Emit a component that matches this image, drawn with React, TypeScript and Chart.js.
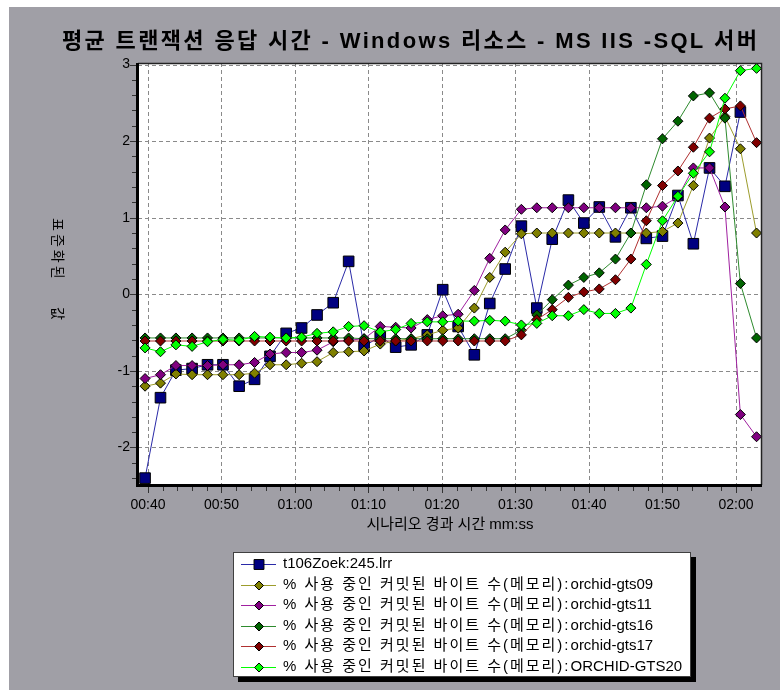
import React, { useEffect, useRef } from 'react';
import { Chart, registerables } from 'chart.js';

Chart.register(...registerables);

const TITLE = '평균 트랜잭션 응답 시간 - Windows 리소스 - MS IIS -SQL 서버';
const X_TITLE = '시나리오 경과 시간 mm:ss';
const Y_TITLE_A = '표준화된';
const Y_TITLE_B = '값';

const Y_TICKS = [-2, -1, 0, 1, 2, 3];
const X_TICKS = [40, 50, 60, 70, 80, 90, 100, 110, 120];

// elapsed scenario time in seconds
const TIMES = [39.6, 41.7, 43.8, 46.0, 48.1, 50.2, 52.4, 54.5, 56.6, 58.8, 60.9, 63.0, 65.2, 67.3, 69.4, 71.6, 73.7, 75.8, 78.0, 80.1,
  82.2, 84.4, 86.5, 88.6, 90.8, 92.9, 95.0, 97.2, 99.3, 101.4, 103.6, 105.7, 107.8, 110.0, 112.1, 114.2, 116.4, 118.5, 120.6, 122.8];

const T106 = [-2.40, -1.35, -0.99, -0.97, -0.92, -0.92, -1.20, -1.11, -0.81, -0.51, -0.44, -0.27, -0.11, 0.43, -0.68, -0.55, -0.69, -0.66, -0.53, 0.06,
  -0.42, -0.79, -0.12, 0.33, 0.89, -0.18, 0.72, 1.23, 0.93, 1.14, 0.75, 1.13, 0.73, 0.76, 1.29, 0.66, 1.65, 1.41, 2.38, null];
const GTS09 = [-1.20, -1.16, -1.04, -1.05, -1.05, -1.05, -1.05, -1.03, -0.92, -0.92, -0.90, -0.88, -0.76, -0.75, -0.74, -0.65, -0.61, -0.58, -0.53, -0.47,
  -0.44, -0.18, 0.22, 0.55, 0.79, 0.80, 0.80, 0.80, 0.80, 0.80, 0.80, 0.80, 0.80, 0.82, 0.93, 1.42, 2.04, 2.32, 1.90, 0.80];
const GTS11 = [-1.10, -1.05, -0.93, -0.93, -0.93, -0.92, -0.92, -0.89, -0.78, -0.76, -0.76, -0.73, -0.62, -0.60, -0.58, -0.42, -0.43, -0.44, -0.33, -0.28,
  -0.26, 0.05, 0.47, 0.84, 1.11, 1.13, 1.13, 1.13, 1.13, 1.13, 1.13, 1.13, 1.13, 1.15, 1.27, 1.65, 1.65, 1.14, -1.57, -1.86];
const GTS16 = [-0.57, -0.57, -0.57, -0.57, -0.57, -0.57, -0.57, -0.57, -0.57, -0.57, -0.57, -0.57, -0.57, -0.57, -0.58, -0.58, -0.58, -0.58, -0.58, -0.58,
  -0.58, -0.58, -0.58, -0.58, -0.47, -0.27, -0.07, 0.12, 0.22, 0.28, 0.46, 0.80, 1.43, 2.03, 2.26, 2.59, 2.63, 2.30, 0.14, -0.57];
const GTS17 = [-0.61, -0.61, -0.61, -0.61, -0.61, -0.61, -0.61, -0.61, -0.61, -0.61, -0.61, -0.61, -0.61, -0.61, -0.61, -0.61, -0.61, -0.61, -0.61, -0.61,
  -0.61, -0.61, -0.61, -0.61, -0.53, -0.33, -0.20, -0.04, 0.03, 0.07, 0.19, 0.46, 0.96, 1.42, 1.61, 1.92, 2.30, 2.42, 2.46, 1.98];
const GTS20 = [-0.70, -0.75, -0.66, -0.68, -0.62, -0.59, -0.60, -0.55, -0.56, -0.57, -0.56, -0.51, -0.49, -0.42, -0.41, -0.49, -0.46, -0.38, -0.36, -0.36,
  -0.35, -0.35, -0.34, -0.35, -0.40, -0.38, -0.28, -0.28, -0.20, -0.25, -0.25, -0.18, 0.39, 0.96, 1.28, 1.58, 1.86, 2.56, 2.92, 2.95];

const MEM_PREFIX = '% 사용 중인 커밋된 바이트 수(메모리):';
const LABELS = [
  't106Zoek:245.lrr',
  MEM_PREFIX + 'orchid-gts09',
  MEM_PREFIX + 'orchid-gts11',
  MEM_PREFIX + 'orchid-gts16',
  MEM_PREFIX + 'orchid-gts17',
  MEM_PREFIX + 'ORCHID-GTS20',
];

const FONT = '"Liberation Sans", "Noto Sans CJK KR", Arial, sans-serif';
const BG = '#a09fa6';

const fmt = (v: number) => {
  const m = Math.floor(v / 60);
  const s = Math.round(v - m * 60);
  return String(m).padStart(2, '0') + ':' + String(s).padStart(2, '0');
};

function makeSet(label: string, values: (number | null)[], line: string, fill: string, style: string, radius: number, order: number) {
  return {
    label,
    data: TIMES.map((t, i) => ({ x: t, y: values[i] })),
    borderColor: line,
    backgroundColor: fill,
    pointBackgroundColor: fill,
    pointBorderColor: '#000',
    pointBorderWidth: 1,
    pointStyle: style,
    pointRadius: radius,
    pointHoverRadius: radius,
    borderWidth: 1,
    tension: 0,
    order,
    clip: false,
  };
}

function drawMarker(ctx: CanvasRenderingContext2D, style: string, x: number, y: number, r: number, fill: string) {
  ctx.beginPath();
  if (style === 'rect') {
    const h = r * Math.SQRT1_2;
    ctx.rect(x - h, y - h, 2 * h, 2 * h);
  } else {
    ctx.moveTo(x, y - r);
    ctx.lineTo(x + r, y);
    ctx.lineTo(x, y + r);
    ctx.lineTo(x - r, y);
    ctx.closePath();
  }
  ctx.fillStyle = fill;
  ctx.fill();
  ctx.strokeStyle = '#000';
  ctx.lineWidth = 1;
  ctx.stroke();
}

const decorPlugin = {
  id: 'decor',
  beforeDraw(chart: any) {
    const { ctx, chartArea: a } = chart;
    ctx.save();
    ctx.fillStyle = '#fff';
    ctx.fillRect(a.left, a.top, a.right - a.left, a.bottom - a.top);
    // dashed grid
    ctx.strokeStyle = '#8a8a8a';
    ctx.lineWidth = 1;
    ctx.setLineDash([4, 3]);
    const xs = chart.scales.x, ys = chart.scales.y;
    X_TICKS.forEach((v) => {
      const px = Math.round(xs.getPixelForValue(v)) + 0.5;
      ctx.beginPath(); ctx.moveTo(px, a.top); ctx.lineTo(px, a.bottom); ctx.stroke();
    });
    Y_TICKS.forEach((v) => {
      const py = Math.round(ys.getPixelForValue(v)) + 0.5;
      ctx.beginPath(); ctx.moveTo(a.left, py); ctx.lineTo(a.right, py); ctx.stroke();
    });
    ctx.setLineDash([]);
    ctx.restore();
  },
  afterDraw(chart: any) {
    const { ctx, chartArea: a } = chart;
    const xs = chart.scales.x, ys = chart.scales.y;
    ctx.save();
    // minor/major tick marks
    ctx.strokeStyle = '#333';
    ctx.lineWidth = 1;
    for (let k = -12; k <= 15; k++) {
      const v = k / 5;
      const py = Math.round(ys.getPixelForValue(v)) + 0.5;
      const len = k % 5 === 0 ? 6 : 4;
      ctx.beginPath(); ctx.moveTo(a.left - 2 - len, py); ctx.lineTo(a.left - 2, py); ctx.stroke();
    }
    for (let k = 20; k <= 61; k++) {
      const v = k * 2;
      const px = Math.round(xs.getPixelForValue(v)) + 0.5;
      const len = v % 10 === 0 ? 6 : 4;
      ctx.beginPath(); ctx.moveTo(px, a.bottom + 2); ctx.lineTo(px, a.bottom + 2 + len); ctx.stroke();
    }
    // frame
    ctx.strokeStyle = '#222';
    ctx.lineWidth = 1.5;
    ctx.beginPath();
    ctx.moveTo(a.left, a.top + 0.5); ctx.lineTo(a.right - 0.5, a.top + 0.5); ctx.lineTo(a.right - 0.5, a.bottom);
    ctx.stroke();
    ctx.strokeStyle = '#000';
    ctx.lineWidth = 3;
    ctx.beginPath();
    ctx.moveTo(a.left - 0.5, a.top); ctx.lineTo(a.left - 0.5, a.bottom + 0.5); ctx.lineTo(a.right, a.bottom + 0.5);
    ctx.stroke();

    // title, spread to the reference's width
    ctx.fillStyle = '#000';
    ctx.textBaseline = 'middle';
    ctx.textAlign = 'left';
    ctx.font = 'bold 22px ' + FONT;
    (ctx as any).letterSpacing = '0px';
    const tw = ctx.measureText(TITLE).width;
    const targetW = 695;
    const sp = Math.max(0, (targetW - tw) / (TITLE.length - 1));
    (ctx as any).letterSpacing = sp.toFixed(2) + 'px';
    ctx.fillText(TITLE, 400.5 - targetW / 2, 35);
    (ctx as any).letterSpacing = '0px';

    // x title
    ctx.textAlign = 'center';
    ctx.font = '15px ' + FONT;
    ctx.fillText(X_TITLE, (a.left + a.right) / 2, 518);

    // y title (rotated clockwise)
    ctx.save();
    ctx.translate(48, 0);
    ctx.rotate(Math.PI / 2);
    ctx.textAlign = 'left';
    ctx.font = '14px ' + FONT;
    (ctx as any).letterSpacing = '3px';
    ctx.fillText(Y_TITLE_A, 211, 0);
    ctx.fillText(Y_TITLE_B, 300, 0);
    ctx.restore();

    // legend
    const bx = 224, by = 545, bw = 458, bh = 125;
    ctx.fillStyle = '#000';
    ctx.fillRect(bx + 5, by + 5, bw, bh);
    ctx.fillStyle = '#fff';
    ctx.fillRect(bx, by, bw, bh);
    ctx.strokeStyle = '#404040';
    ctx.lineWidth = 1;
    ctx.strokeRect(bx + 0.5, by + 0.5, bw - 1, bh - 1);
    chart.data.datasets.forEach((ds: any, i: number) => {
      const y = 557 + i * 20.5;
      ctx.strokeStyle = ds.borderColor;
      ctx.lineWidth = 1;
      ctx.beginPath(); ctx.moveTo(232, Math.round(y) + 0.5); ctx.lineTo(267, Math.round(y) + 0.5); ctx.stroke();
      drawMarker(ctx, ds.pointStyle, 250, Math.round(y) + 0.5, ds.pointStyle === 'rect' ? 7 : 4.5, ds.pointBackgroundColor);
      ctx.fillStyle = '#000';
      ctx.textAlign = 'left';
      ctx.textBaseline = 'middle';
      const label: string = ds.label;
      if (label.startsWith(MEM_PREFIX)) {
        ctx.font = '15px ' + FONT;
        (ctx as any).letterSpacing = '2px';
        ctx.fillText(MEM_PREFIX, 274, y);
        const w = ctx.measureText(MEM_PREFIX).width;
        (ctx as any).letterSpacing = '0px';
        ctx.fillText(label.slice(MEM_PREFIX.length), 274 + w, y);
      } else {
        (ctx as any).letterSpacing = '0px';
        ctx.font = '15px ' + FONT;
        ctx.fillText(label, 274, y);
      }
    });
    ctx.restore();
  },
};

export default function App() {
  const ref = useRef<HTMLCanvasElement | null>(null);
  useEffect(() => {
    if (!ref.current) return;
    const chart = new Chart(ref.current, {
      type: 'line',
      data: {
        datasets: [
          makeSet(LABELS[0], T106, '#2a2aa8', '#000080', 'rect', 7.5, 6),
          makeSet(LABELS[1], GTS09, '#9c9c2c', '#808000', 'rectRot', 5, 5),
          makeSet(LABELS[2], GTS11, '#a020a0', '#800080', 'rectRot', 5, 4),
          makeSet(LABELS[3], GTS16, '#2e8b2e', '#006400', 'rectRot', 5, 3),
          makeSet(LABELS[4], GTS17, '#b03030', '#800000', 'rectRot', 5, 2),
          makeSet(LABELS[5], GTS20, '#00ff00', '#00ff00', 'rectRot', 5, 1),
        ] as any,
      },
      options: {
        animation: false,
        responsive: false,
        maintainAspectRatio: false,
        devicePixelRatio: 1,
        layout: { padding: { top: 56, right: 18, left: 0, bottom: 0 } },
        plugins: { legend: { display: false }, title: { display: false }, tooltip: { enabled: false } },
        scales: {
          x: {
            type: 'linear',
            min: 38.64,
            max: 123.54,
            afterBuildTicks: (s: any) => { s.ticks = X_TICKS.map((v) => ({ value: v })); },
            afterFit: (s: any) => { s.height = 205; },
            ticks: { callback: (v: any) => fmt(Number(v)), color: '#000', font: { size: 14, family: FONT }, padding: 12, maxRotation: 0, autoSkip: false },
            grid: { display: false, drawTicks: false },
            border: { display: false },
          },
          y: {
            type: 'linear',
            min: -2.49,
            max: 3.02,
            afterBuildTicks: (s: any) => { s.ticks = Y_TICKS.map((v) => ({ value: v })); },
            afterFit: (s: any) => { s.width = 129; },
            ticks: { color: '#000', font: { size: 14, family: FONT }, padding: 8 },
            grid: { display: false, drawTicks: false },
            border: { display: false },
          },
        },
      } as any,
      plugins: [decorPlugin],
    });
    return () => chart.destroy();
  }, []);
  return (
    <div style={{ position: 'absolute', left: 9, top: 7, width: 771, height: 683, background: BG, overflow: 'hidden' }}>
      <canvas ref={ref} width={771} height={683} style={{ display: 'block', width: 771, height: 683 }} />
    </div>
  );
}
